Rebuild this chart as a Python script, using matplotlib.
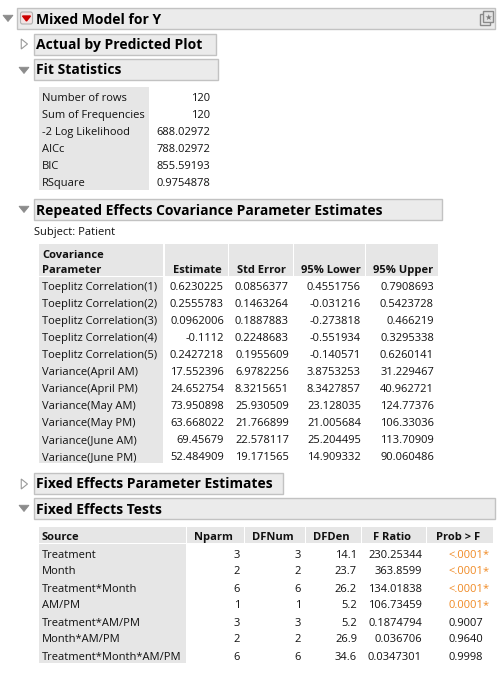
import matplotlib
matplotlib.use("Agg")
import matplotlib.pyplot as plt
from matplotlib.patches import Rectangle, Polygon, FancyBboxPatch

# Open Sans has a real bold face here (Noto Sans only regular)
plt.rcParams['font.family'] = ['Open Sans', 'DejaVu Sans']

# ---- data ----
fit_labels = ["Number of rows", "Sum of Frequencies", "-2 Log Likelihood", "AICc", "BIC", "RSquare"]
fit_values = ["120", "120", "688.02972", "788.02972", "855.59193", "0.9754878"]

cov_params = ["Toeplitz Correlation(1)", "Toeplitz Correlation(2)", "Toeplitz Correlation(3)",
              "Toeplitz Correlation(4)", "Toeplitz Correlation(5)", "Variance(April AM)",
              "Variance(April PM)", "Variance(May AM)", "Variance(May PM)",
              "Variance(June AM)", "Variance(June PM)"]
cov_est = [0.6230225, 0.2555783, 0.0962006, -0.1112, 0.2427218, 17.552396,
           24.652754, 73.950898, 63.668022, 69.45679, 52.484909]
cov_se = [0.0856377, 0.1463264, 0.1887883, 0.2248683, 0.1955609, 6.9782256,
          8.3215651, 25.930509, 21.766899, 22.578117, 19.171565]
cov_lo = [0.4551756, -0.031216, -0.273818, -0.551934, -0.140571, 3.8753253,
          8.3427857, 23.128035, 21.005684, 25.204495, 14.909332]
cov_hi = [0.7908693, 0.5423728, 0.466219, 0.3295338, 0.6260141, 31.229467,
          40.962721, 124.77376, 106.33036, 113.70909, 90.060486]

fe_source = ["Treatment", "Month", "Treatment*Month", "AM/PM", "Treatment*AM/PM",
             "Month*AM/PM", "Treatment*Month*AM/PM"]
fe_nparm = [3, 2, 6, 1, 3, 2, 6]
fe_dfnum = [3, 2, 6, 1, 3, 2, 6]
fe_dfden = [14.1, 23.7, 26.2, 5.2, 5.2, 26.9, 34.6]
fe_fratio = [230.25344, 363.8599, 134.01838, 106.73459, 0.1874794, 0.036706, 0.0347301]
fe_prob = ["<.0001", "<.0001", "<.0001", "0.0001", "0.9007", "0.9640", "0.9998"]
fe_sig = [True, True, True, True, False, False, False]

# ---- styling ----
BOX_FILL = "#ebebeb"
BOX_EDGE = "#c2c2c2"
CELL = "#e6e6e6"
ORANGE = "#f08a24"
TXT = "#111111"
FS = 8
TFS = 10.0
ROW = 17

fig = plt.figure(figsize=(5.02, 6.73), dpi=100)
ax = fig.add_axes([0, 0, 1, 1])
ax.set_xlim(0, 502)
ax.set_ylim(673, 0)
ax.axis("off")


def tri(cx, cy, opened, size=5):
    if opened:
        pts = [(cx - size, cy - size * 0.55), (cx + size, cy - size * 0.55), (cx, cy + size * 0.7)]
        ax.add_patch(Polygon(pts, closed=True, fc="#8c8c8c", ec="#8c8c8c", lw=0.6))
    else:
        pts = [(cx - size * 0.55, cy - size), (cx - size * 0.55, cy + size), (cx + size * 0.7, cy)]
        ax.add_patch(Polygon(pts, closed=True, fc="white", ec="#9a9a9a", lw=0.8))


def outline(x0, x1, y0, y1, title, opened, tx=36):
    ax.add_patch(Rectangle((x0, y0), x1 - x0, y1 - y0, fc=BOX_FILL, ec=BOX_EDGE, lw=1.0))
    ax.text(tx, y1 - 5.5, title, fontsize=TFS, fontweight="bold", color="black",
            ha="left", va="baseline")


def bold(x, y, s, ha="left"):
    ax.text(x, y, s, fontsize=FS, fontweight="bold", color=TXT, ha=ha, va="baseline")


def plain(x, y, s, ha="left", color=TXT):
    ax.text(x, y, s, fontsize=FS, color=color, ha=ha, va="baseline")


# main header
outline(17, 495, 8, 29, "Mixed Model for Y", True, tx=36)
tri(8, 18, True)
ax.add_patch(FancyBboxPatch((20.5, 12), 12, 12, boxstyle="round,pad=0,rounding_size=2",
                            fc="#f3e3e3", ec="#b0b0b0", lw=0.8))
ax.add_patch(Polygon([(22.5, 16), (30.5, 16), (26.5, 21)], closed=True, fc="#cc0000", ec="#cc0000"))
# corner icon
ax.add_patch(Rectangle((480, 14), 10, 11, fc="none", ec="#8a8a8a", lw=1.0))
ax.add_patch(Rectangle((483, 11), 10, 11, fc="#e4e4e4", ec="#8a8a8a", lw=1.0))
ax.text(488, 17, "\u2605", fontsize=6, color="#7a7a7a", ha="center", va="center",
        family=["DejaVu Sans"])

outline(34, 216, 34, 55, "Actual by Predicted Plot", False)
tri(24, 44, False)
outline(34, 218, 59, 80, "Fit Statistics", True)
tri(24, 70, True)

# fit statistics table
ax.add_patch(Rectangle((39, 87), 110, 103, fc=CELL, ec="none"))
for i, (lab, val) in enumerate(zip(fit_labels, fit_values)):
    yb = 101 + i * ROW
    plain(42, yb, lab)
    plain(210, yb, val, ha="right")

# repeated effects covariance
outline(34, 442, 199, 220, "Repeated Effects Covariance Parameter Estimates", True)
tri(24, 209, True)
plain(34, 235.5, "Subject: Patient")

cov_cols = [(39, 163), (165, 228), (229, 293), (294, 365), (366, 438)]
cov_heads = ["Estimate", "Std Error", "95% Lower", "95% Upper"]
cov_right = [224, 289, 361, 434]
for x0, x1 in cov_cols:
    ax.add_patch(Rectangle((x0, 244), x1 - x0, 32, fc=CELL, ec="none"))
ax.add_patch(Rectangle((39, 277), 124, 186, fc=CELL, ec="none"))
bold(42, 257.5, "Covariance")
bold(42, 273, "Parameter")
for (x0, x1), h in zip(cov_cols[1:], cov_heads):
    bold((x0 + x1) / 2 + 1, 273, h, ha="center")
for i, name in enumerate(cov_params):
    yb = 290 + i * ROW
    plain(42, yb, name)
    for xr, col in zip(cov_right, [cov_est, cov_se, cov_lo, cov_hi]):
        plain(xr, yb, str(col[i]), ha="right")

# fixed effects
outline(34, 283, 473, 494, "Fixed Effects Parameter Estimates", False)
tri(24, 484, False)
outline(34, 495, 498, 519, "Fixed Effects Tests", True)
tri(24, 508, True)

fe_cols = [(39, 186), (187, 244), (245, 305), (306, 361), (362, 426), (427, 493)]
fe_heads = ["Nparm", "DFNum", "DFDen", "F Ratio", "Prob > F"]
fe_right = [240, 301, 357, 422, 483]
for x0, x1 in fe_cols:
    ax.add_patch(Rectangle((x0, 527), x1 - x0, 16, fc=CELL, ec="none"))
ax.add_patch(Rectangle((39, 544), 147, 119, fc=CELL, ec="none"))
bold(42, 540, "Source")
for (x0, x1), h in zip(fe_cols[1:], fe_heads):
    bold((x0 + x1) / 2 - 2, 540, h, ha="center")
for i, src in enumerate(fe_source):
    yb = 557.5 + i * ROW
    plain(42, yb, src)
    cells = [str(fe_nparm[i]), str(fe_dfnum[i]), str(fe_dfden[i]), str(fe_fratio[i])]
    for xr, s in zip(fe_right[:4], cells):
        plain(xr, yb, s, ha="right")
    c = ORANGE if fe_sig[i] else TXT
    plain(fe_right[4], yb, fe_prob[i], ha="right", color=c)
    if fe_sig[i]:
        plain(fe_right[4], yb, "*", color=c)

fig.savefig("out.png", dpi=100, facecolor="white")
